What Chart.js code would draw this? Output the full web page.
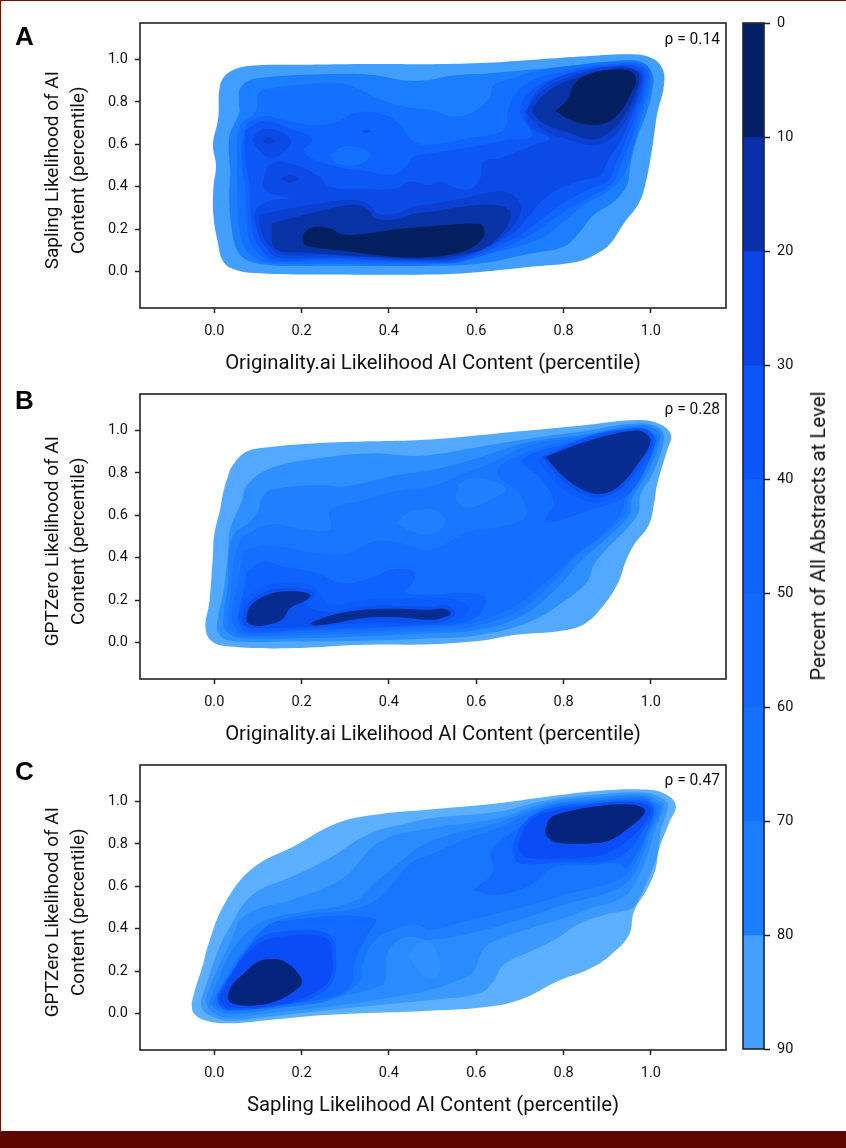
<!DOCTYPE html>
<html><head><meta charset="utf-8">
<script src="https://cdn.jsdelivr.net/npm/chart.js@4"></script>
<style>
html,body{margin:0;padding:0;background:#fff}
body{width:846px;height:1148px;position:relative;overflow:hidden}
canvas{position:absolute}
.frame{position:absolute;left:0;top:0;width:844.5px;height:1130px;border:solid #7a0c02;border-width:1px 0.5px 0 1.5px;box-sizing:content-box;pointer-events:none}
.band{position:absolute;left:0;top:1131px;width:846px;height:17px;background:#5f0600}
.letter{position:absolute;left:15px;font:bold 26px "Liberation Sans",sans-serif;color:#000;line-height:26px}
.rho{position:absolute;right:126px;font:15.6px Roboto,sans-serif;color:#111;line-height:16px}
.cbt{position:absolute;left:818px;top:536px;font:20.4px Roboto,sans-serif;color:#111;white-space:nowrap;transform:translate(-50%,-50%) rotate(-90deg)}
</style></head><body>
<div class="frame"></div><div class="band"></div>
<canvas id="ca"></canvas><canvas id="cb"></canvas><canvas id="cc"></canvas><canvas id="cbar"></canvas>
<div class="letter" style="top:23px">A</div><div class="letter" style="top:387px">B</div><div class="letter" style="top:758px">C</div>
<div class="rho" style="top:31px">ρ = 0.14</div><div class="rho" style="top:401px">ρ = 0.28</div><div class="rho" style="top:772px">ρ = 0.47</div>
<div class="cbt">Percent of All Abstracts at Level</div>
<script>
const xTicks=[0,0.2,0.4,0.6,0.8,1.0];
const yTicks=[0,0.2,0.4,0.6,0.8,1.0];
const barTicks=[0,10,20,30,40,50,60,70,80,90];
const barLow=[0,10,20,30,40,50,60,70,80];
const barColors=['#031f66','#0a2fa8','#0b44e6','#0b55fa','#0f63ff','#1269ff','#1470ff','#1b7dff','#459fff'];
const colorsA=['#429fff','#1b7dff','#1470ff','#0f64ff','#0c57f5','#0b4ae5','#0a3fcf','#0733a6','#031f5f'];
const colorsB=['#52a9ff','#2e90ff','#1f80ff','#1976ff','#146eff','#0e62ff','#0c5cfc','#0a52f0','#062b91'];
const colorsC=['#5cb0ff','#3a98ff','#2a8bff','#1f80ff','#1875ff','#1269ff','#0d5aff','#0a4cf5','#04237a','#3090ff'];

// Panel A contours, [x,y] in percentile units
const a1=[[.010,.833],[.018,.904],[.044,.951],[.090,.972],[.189,.975],[.304,.978],[.495,.978],[.609,.983],[.724,.998],[.838,1.014],[.953,1.025],[.999,1.009],[1.026,.959],[1.030,.880],[1.014,.739],[1.003,.581],[.987,.408],[.972,.321],[.938,.227],[.907,.132],[.877,.085],[.831,.046],[.724,.022],[.609,-.002],[.495,-.014],[.266,-.014],[.113,-.009],[.052,.006],[.021,.046],[.008,.140],[-.002,.266],[-.002,.392],[.004,.502],[-.003,.597],[.008,.707],[.010,.754]];
const a2=[[.056,.802],[.058,.857],[.075,.896],[.113,.915],[.266,.931],[.357,.928],[.441,.901],[.495,.904],[.541,.923],[.632,.935],[.724,.951],[.838,.975],[.953,.998],[.983,.983],[1.003,.935],[1.005,.880],[.991,.754],[.968,.628],[.953,.502],[.945,.408],[.915,.329],[.869,.266],[.831,.172],[.800,.117],[.724,.085],[.609,.038],[.495,.027],[.266,.027],[.128,.030],[.075,.054],[.052,.101],[.040,.203],[.034,.361],[.037,.455],[.034,.628],[.052,.723],[.058,.754]];
const a3=[[.098,.833],[.113,.857],[.189,.880],[.296,.885],[.334,.857],[.373,.817],[.434,.778],[.495,.762],[.548,.731],[.594,.754],[.632,.825],[.640,.880],[.686,.912],[.732,.943],[.838,.975],[.922,.989],[.989,.975],[.999,.883],[.979,.739],[.959,.581],[.938,.455],[.900,.376],[.846,.313],[.800,.235],[.747,.156],[.648,.093],[.495,.033],[.266,.038],[.136,.038],[.090,.069],[.067,.124],[.056,.235],[.053,.424],[.052,.550],[.060,.691],[.094,.754]];
const a4=[[.075,.699],[.113,.735],[.174,.707],[.235,.688],[.281,.707],[.327,.751],[.388,.739],[.426,.691],[.457,.613],[.495,.597],[.571,.625],[.648,.652],[.667,.683],[.678,.794],[.716,.888],[.800,.943],[.922,.981],[.984,.967],[.993,.883],[.972,.739],[.953,.613],[.930,.502],[.911,.416],[.862,.353],[.800,.282],[.747,.203],[.686,.132],[.571,.049],[.495,.039],[.266,.049],[.136,.049],[.102,.085],[.082,.140],[.075,.235],[.071,.392],[.063,.534],[.067,.644]];
const a4spot=[[.266,.550],[.296,.589],[.342,.578],[.357,.546],[.327,.502],[.281,.510]];
const a5=[[.071,.668],[.113,.710],[.166,.679],[.224,.625],[.205,.562],[.266,.502],[.357,.471],[.411,.458],[.438,.494],[.457,.542],[.495,.557],[.571,.581],[.670,.620],[.728,.641],[.701,.754],[.724,.849],[.800,.928],[.922,.975],[.980,.959],[.987,.888],[.965,.739],[.942,.613],[.919,.502],[.900,.424],[.854,.384],[.793,.313],[.732,.219],[.686,.156],[.571,.057],[.495,.044],[.266,.058],[.136,.058],[.109,.101],[.092,.156],[.084,.250],[.082,.392],[.071,.534]];
const a5spot=[[.338,.660],[.348,.668],[.359,.660],[.348,.652]];
const a6=[[.113,.439],[.128,.506],[.174,.510],[.235,.455],[.266,.400],[.342,.389],[.418,.392],[.445,.424],[.495,.408],[.518,.424],[.548,.397],[.586,.389],[.609,.439],[.617,.518],[.659,.537],[.728,.594],[.768,.628],[.724,.683],[.716,.754],[.747,.865],[.817,.935],[.922,.969],[.976,.951],[.982,.888],[.957,.739],[.930,.613],[.900,.518],[.884,.455],[.831,.424],[.762,.353],[.716,.250],[.678,.172],[.571,.065],[.495,.049],[.266,.066],[.144,.069],[.117,.117],[.102,.172],[.094,.282],[.124,.332],[.173,.345],[.128,.369],[.113,.400]];
const a6isle=[[.086,.620],[.102,.660],[.128,.672],[.159,.652],[.176,.616],[.163,.573],[.132,.537],[.102,.573]];
const a7low=[[.104,.266],[.144,.285],[.228,.317],[.312,.337],[.354,.317],[.373,.274],[.418,.274],[.457,.306],[.495,.317],[.571,.345],[.663,.376],[.701,.313],[.686,.219],[.632,.124],[.571,.074],[.495,.055],[.266,.077],[.151,.083],[.124,.124],[.109,.180],[.104,.235]];
const a7up=[[.712,.754],[.747,.846],[.817,.920],[.922,.964],[.972,.943],[.977,.888],[.953,.754],[.922,.652],[.877,.597],[.816,.620],[.754,.668]];
const a7s1=[[.111,.617],[.124,.633],[.137,.617],[.124,.602]];
const a7s2=[[.151,.439],[.173,.454],[.193,.439],[.173,.419]];
const a8low=[[.132,.227],[.235,.282],[.304,.313],[.334,.310],[.357,.282],[.369,.250],[.418,.247],[.457,.271],[.495,.282],[.571,.306],[.648,.313],[.678,.282],[.674,.227],[.651,.164],[.617,.109],[.571,.083],[.495,.061],[.342,.072],[.205,.090],[.151,.096],[.134,.124],[.132,.187]];
const a8up=[[.726,.754],[.754,.833],[.816,.904],[.922,.959],[.968,.943],[.972,.888],[.945,.754],[.911,.668],[.869,.624],[.816,.652],[.754,.699]];
const a9low=[[.201,.164],[.212,.195],[.235,.211],[.266,.203],[.296,.175],[.357,.180],[.418,.200],[.495,.214],[.609,.224],[.618,.203],[.617,.164],[.586,.109],[.541,.080],[.495,.069],[.418,.069],[.304,.096],[.220,.117],[.205,.132]];
const a9up=[[.781,.757],[.808,.809],[.823,.880],[.854,.928],[.907,.951],[.953,.943],[.966,.904],[.953,.833],[.930,.754],[.900,.704],[.862,.691],[.816,.715]];

// Panel B contours
const b1=[[.037,.821],[.067,.892],[.113,.918],[.266,.943],[.495,.958],[.648,.986],[.838,1.022],[.968,1.049],[1.022,1.028],[1.046,.978],[1.037,.907],[1.014,.743],[1.008,.664],[.995,.554],[.961,.460],[.942,.381],[.926,.287],[.892,.177],[.850,.091],[.800,.057],[.686,.036],[.609,.008],[.495,-.008],[.342,-.011],[.174,-.027],[.037,-.019],[-.005,.005],[-.020,.068],[-.011,.193],[-.003,.413],[0,.507],[.014,.633],[.021,.711]];
const b2=[[.064,.672],[.075,.743],[.128,.821],[.235,.868],[.357,.892],[.441,.881],[.495,.884],[.609,.923],[.724,.962],[.838,.994],[.968,1.033],[1.018,1.013],[1.030,.962],[1.006,.805],[.976,.695],[.972,.617],[.945,.538],[.900,.444],[.869,.366],[.854,.287],[.800,.193],[.724,.099],[.609,.036],[.495,.020],[.342,.008],[.174,.005],[.037,.008],[.010,.044],[.008,.115],[.021,.240],[.031,.413],[.037,.538],[.056,.633]];
const b3=[[.102,.625],[.109,.680],[.128,.719],[.235,.743],[.304,.738],[.418,.790],[.495,.813],[.586,.860],[.724,.947],[.838,.978],[.968,1.025],[1.014,1.002],[1.022,.962],[.995,.813],[.957,.680],[.953,.609],[.907,.507],[.838,.381],[.785,.256],[.708,.130],[.609,.060],[.495,.044],[.189,.020],[.052,.024],[.025,.060],[.021,.115],[.031,.272],[.033,.397],[.044,.507],[.082,.570]];
const b4=[[.063,.499],[.128,.557],[.205,.535],[.266,.535],[.266,.625],[.342,.672],[.426,.719],[.495,.735],[.571,.797],[.640,.852],[.724,.931],[.838,.970],[.968,1.019],[1.005,.994],[1.017,.954],[.983,.805],[.949,.680],[.942,.609],[.892,.507],[.823,.397],[.777,.287],[.693,.146],[.594,.075],[.495,.055],[.189,.033],[.060,.031],[.035,.068],[.031,.115],[.040,.272],[.046,.397]];
const b4s1=[[.552,.672],[.563,.750],[.609,.774],[.667,.727],[.632,.672],[.579,.636]];
const b4s2=[[.418,.562],[.441,.609],[.495,.630],[.518,.609],[.529,.578],[.510,.523],[.464,.515]];
const b5=[[.067,.429],[.113,.457],[.166,.447],[.235,.421],[.304,.421],[.365,.476],[.411,.476],[.441,.460],[.495,.436],[.586,.523],[.656,.546],[.713,.593],[.701,.695],[.648,.805],[.708,.892],[.838,.962],[.968,1.014],[.999,.989],[1.013,.954],[.972,.797],[.942,.680],[.930,.601],[.877,.491],[.816,.397],[.770,.303],[.678,.162],[.586,.091],[.495,.068],[.189,.044],[.067,.039],[.044,.083],[.040,.130],[.053,.272],[.060,.350]];
const b6low=[[.075,.334],[.113,.381],[.159,.358],[.235,.327],[.296,.279],[.357,.303],[.411,.347],[.457,.334],[.457,.287],[.438,.240],[.495,.224],[.556,.232],[.617,.217],[.618,.162],[.579,.099],[.495,.080],[.189,.055],[.075,.049],[.056,.091],[.056,.146],[.067,.240]];
const b6up=[[.724,.892],[.838,.954],[.968,1.009],[.995,.984],[1.008,.954],[.988,.821],[.945,.695],[.861,.625],[.758,.570],[.777,.664],[.747,.774],[.705,.852]];
const b7low=[[.056,.115],[.067,.193],[.105,.256],[.151,.279],[.220,.272],[.243,.224],[.266,.177],[.342,.201],[.418,.209],[.495,.209],[.556,.201],[.583,.162],[.556,.107],[.495,.086],[.342,.075],[.189,.063],[.082,.058]];
const b7up=[[.739,.865],[.861,.975],[.953,1.008],[.993,1.002],[1.010,.947],[.981,.827],[.939,.717],[.896,.667],[.846,.672],[.785,.750]];
const b8low=[[.063,.115],[.075,.177],[.109,.232],[.151,.256],[.212,.253],[.231,.224],[.212,.177],[.266,.143],[.342,.170],[.418,.174],[.495,.170],[.533,.174],[.552,.138],[.533,.105],[.495,.091],[.342,.091],[.189,.071],[.090,.068],[.067,.080]];
const b8up=[[.751,.876],[.861,.965],[.953,1.003],[.989,.997],[1.005,.947],[.974,.832],[.934,.730],[.892,.688],[.850,.695],[.794,.771]];
const b9a=[[.073,.115],[.082,.170],[.113,.217],[.151,.240],[.205,.237],[.220,.221],[.205,.193],[.174,.162],[.155,.107],[.121,.083],[.090,.080],[.075,.096]];
const b9b=[[.220,.091],[.266,.127],[.342,.154],[.418,.159],[.495,.154],[.525,.159],[.542,.138],[.525,.118],[.495,.107],[.418,.119],[.342,.115],[.266,.088],[.228,.080]];
const b9c=[[.758,.876],[.861,.954],[.953,.997],[.984,.991],[.999,.947],[.968,.837],[.930,.743],[.892,.703],[.854,.711],[.800,.782]];

// Panel C contours
const c1=[[-.052,.049],[-.043,.119],[-.026,.229],[-.014,.323],[.022,.512],[.087,.684],[.187,.794],[.279,.896],[.363,.936],[.493,.962],[.647,.991],[.762,1.022],[.877,1.049],[.984,1.056],[1.030,1.038],[1.057,.983],[1.041,.896],[1.018,.771],[1.011,.684],[.992,.590],[.961,.480],[.950,.371],[.908,.276],[.862,.213],[.785,.151],[.709,.072],[.632,.033],[.493,.013],[.264,-.006],[.126,-.030],[.034,-.046],[-.020,-.033],[-.047,.002]];
const c2=[[-.031,.057],[-.016,.151],[.011,.308],[.034,.402],[.087,.559],[.187,.653],[.264,.732],[.356,.849],[.440,.896],[.493,.920],[.647,.951],[.762,1.006],[.877,1.033],[.984,1.042],[1.026,1.014],[1.039,.983],[1.022,.857],[1.015,.747],[.999,.661],[.969,.527],[.953,.493],[.892,.465],[.831,.418],[.785,.355],[.724,.292],[.662,.229],[.639,.151],[.608,.096],[.493,.064],[.264,.017],[.126,-.014],[.034,-.033],[-.005,-.014],[-.026,.017]];
const c3=[[-.020,.057],[-.005,.151],[.034,.323],[.072,.465],[.187,.543],[.294,.637],[.379,.810],[.493,.873],[.647,.920],[.762,.994],[.877,1.022],[.984,1.033],[1.015,1.006],[1.030,.983],[1.007,.849],[.992,.747],[.969,.637],[.938,.551],[.862,.496],[.800,.449],[.724,.402],[.632,.331],[.609,.276],[.594,.198],[.562,.159],[.493,.111],[.394,.072],[.264,.033],[.126,.002],[.034,-.019],[-.005,.006]];
const c3spot=[[.446,.276],[.463,.323],[.493,.339],[.516,.250],[.516,.198],[.493,.163],[.463,.213]];
const c4=[[-.012,.049],[.007,.151],[.049,.323],[.110,.433],[.202,.480],[.317,.527],[.371,.622],[.417,.700],[.493,.810],[.647,.898],[.762,.983],[.877,1.014],[.984,1.025],[1.008,.998],[1.024,.975],[.999,.849],[.980,.739],[.957,.645],[.919,.582],[.800,.512],[.685,.433],[.570,.371],[.493,.347],[.444,.363],[.409,.323],[.394,.268],[.394,.198],[.386,.135],[.264,.072],[.126,.017],[.034,-.003],[.005,.017]];
const c5=[[-.005,.049],[.022,.151],[.064,.292],[.126,.418],[.202,.465],[.325,.496],[.386,.559],[.417,.637],[.455,.716],[.493,.747],[.578,.826],[.639,.865],[.762,.975],[.877,1.006],[.984,1.019],[1.003,.994],[1.016,.967],[.992,.841],[.973,.747],[.950,.669],[.908,.614],[.816,.567],[.724,.512],[.570,.433],[.493,.394],[.463,.418],[.409,.394],[.363,.331],[.340,.229],[.333,.151],[.264,.064],[.126,.025],[.034,.009],[.011,.025]];
const c6a=[[.005,.072],[.030,.166],[.072,.292],[.110,.394],[.149,.436],[.367,.449],[.344,.347],[.321,.237],[.313,.135],[.264,.075],[.149,.041],[.034,.017],[.015,.033]];
const c6b=[[.592,.582],[.639,.669],[.635,.763],[.716,.904],[.762,.967],[.877,.998],[.953,1.008],[.999,.994],[1.008,.954],[.988,.841],[.965,.747],[.942,.684],[.930,.708],[.862,.700],[.777,.688],[.724,.606],[.647,.559]];
const c7a=[[.007,.088],[.034,.174],[.068,.284],[.110,.363],[.156,.386],[.241,.389],[.273,.347],[.279,.276],[.273,.159],[.241,.091],[.164,.041],[.034,.017],[.012,.041]];
const c7b=[[.685,.802],[.708,.896],[.758,.959],[.877,.992],[.953,1.003],[.996,.989],[1.006,.951],[.978,.849],[.945,.763],[.899,.719],[.800,.713],[.701,.708],[.685,.755]];
const c8a=[[.011,.072],[.034,.166],[.072,.276],[.110,.339],[.156,.363],[.233,.370],[.264,.339],[.270,.276],[.266,.166],[.233,.104],[.164,.049],[.034,.025],[.017,.049]];
const c8b=[[.696,.802],[.716,.888],[.758,.948],[.877,.986],[.953,.997],[.992,.983],[.999,.951],[.973,.865],[.922,.779],[.869,.739],[.724,.732],[.701,.763]];
const c9a=[[.030,.080],[.041,.135],[.064,.182],[.098,.242],[.133,.257],[.164,.242],[.195,.182],[.201,.143],[.187,.111],[.149,.064],[.103,.040],[.064,.038],[.037,.053]];
const c9b=[[.758,.865],[.769,.920],[.800,.948],[.877,.978],[.953,.986],[.984,.967],[.984,.939],[.953,.881],[.907,.818],[.861,.802],[.785,.807],[.762,.834]];

const panelA=[[a1,0],[a2,1],[a3,2],[a4,3],[a4spot,2],[a5,4],[a5spot,5],[a6,5],[a6isle,5],[a7low,6],[a7up,6],[a7s1,6],[a7s2,6],[a8low,7],[a8up,7],[a9low,8],[a9up,8]];
const panelB=[[b1,0],[b2,1],[b3,2],[b4,3],[b4s1,2],[b4s2,2],[b5,4],[b6low,5],[b6up,5],[b7low,6],[b7up,6],[b8low,7],[b8up,7],[b9a,8],[b9b,8],[b9c,8]];
const panelC=[[c1,0],[c2,1],[c3,2],[c3spot,9],[c4,3],[c5,4],[c6a,5],[c6b,5],[c7a,6],[c7b,6],[c8a,7],[c8b,7],[c9a,8],[c9b,8]];

const xTitleFont={family:'Roboto, sans-serif',size:20.3};
const yTitleFont={family:'Roboto, sans-serif',size:19,lineHeight:1.36};
const tickFont={family:'Roboto, sans-serif',size:14.5};
const ink='#111';
const frame={id:'frame',afterDraw(ch){const a=ch.chartArea,c=ch.ctx;c.save();c.strokeStyle='#222';c.lineWidth=1.6;c.strokeRect(a.left,a.top,a.right-a.left,a.bottom-a.top);c.restore();}};

function panel(id,top,rows,colors,xLabel,yLabel){
  const el=document.getElementById(id);
  el.style.left='0px';el.style.top=top+'px';
  new Chart(el,{type:'scatter',
    data:{datasets:rows.map((r,i)=>({
      data:r[0].concat([r[0][0]]).map(p=>({x:p[0],y:p[1]})),
      showLine:true,fill:'shape',backgroundColor:colors[r[1]],borderWidth:0,pointRadius:0,tension:0.4,order:rows.length-i}))},
    plugins:[frame],
    options:{responsive:false,animation:false,devicePixelRatio:1,
      layout:{padding:{top:23,right:9,left:0,bottom:0}},
      plugins:{legend:{display:false},tooltip:{enabled:false},title:{display:false}},
      scales:{
        x:{type:'linear',min:-0.17,max:1.172,
          afterBuildTicks:s=>{s.ticks=xTicks.map(v=>({value:v}))},
          afterFit:s=>{s.height=68},
          grid:{drawOnChartArea:false,drawTicks:true,tickLength:5,tickColor:'#222',tickWidth:1.5},border:{display:false},
          ticks:{font:tickFont,color:ink,padding:10,maxRotation:0,callback:v=>v.toFixed(1)},
          title:{display:true,text:xLabel,font:xTitleFont,color:ink,padding:0}},
        y:{type:'linear',min:-0.172,max:1.172,
          afterBuildTicks:s=>{s.ticks=yTicks.map(v=>({value:v}))},
          afterFit:s=>{s.width=140},
          grid:{drawOnChartArea:false,drawTicks:true,tickLength:5,tickColor:'#222',tickWidth:1.5},border:{display:false},
          ticks:{font:tickFont,color:ink,padding:7,callback:v=>v.toFixed(1)},
          title:{display:true,text:yLabel,font:yTitleFont,color:ink,padding:{top:40,bottom:0}}}
      }}});
}
[['ca',0],['cb',371],['cc',742]].forEach(([id,t])=>{const e=document.getElementById(id);e.width=735;e.height=376;});
panel('ca',0,panelA,colorsA,'Originality.ai Likelihood AI Content (percentile)',['Sapling Likelihood of AI  ','Content (percentile)  ']);
panel('cb',371,panelB,colorsB,'Originality.ai Likelihood AI Content (percentile)',['GPTZero Likelihood of AI  ','Content (percentile)  ']);
panel('cc',742,panelC,colorsC,'Sapling Likelihood AI Content (percentile)',['GPTZero Likelihood of AI  ','Content (percentile)  ']);

const bar=document.getElementById('cbar');bar.width=110;bar.height=1100;bar.style.left='735px';bar.style.top='0px';
new Chart(bar,{type:'bar',
  data:{labels:['level'],datasets:barLow.map((v,i)=>({data:[[v,barTicks[i+1]]],backgroundColor:barColors[i],borderWidth:0,grouped:false,barPercentage:1,categoryPercentage:1}))},
  plugins:[frame],
  options:{responsive:false,animation:false,devicePixelRatio:1,
    layout:{padding:{top:23,left:8,right:0,bottom:51}},
    plugins:{legend:{display:false},tooltip:{enabled:false}},
    scales:{
      x:{display:false},
      y:{position:'right',reverse:true,min:0,max:90,
        afterBuildTicks:s=>{s.ticks=barTicks.map(v=>({value:v}))},
        afterFit:s=>{s.width=81},
        grid:{drawOnChartArea:false,drawTicks:true,tickLength:6,tickColor:'#222',tickWidth:1.5},border:{display:false},
        ticks:{font:tickFont,color:ink,padding:7}}
    }}});
</script>
</body></html>
